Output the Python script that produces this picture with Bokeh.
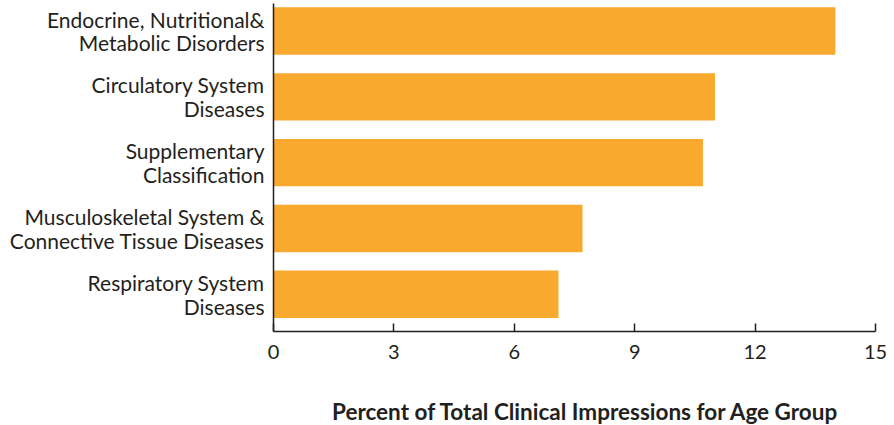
from bokeh.plotting import figure
from bokeh.layouts import column
from bokeh.models import ColumnDataSource, FixedTicker, Label
from bokeh.embed import file_html
from bokeh.resources import INLINE

# Top-to-bottom order of the diagnostic categories
categories = [
    "Endocrine, Nutritional&\nMetabolic Disorders",
    "Circulatory System\nDiseases",
    "Supplementary\nClassification",
    "Musculoskeletal System &\nConnective Tissue Diseases",
    "Respiratory System\nDiseases",
]
percent = [14.0, 11.0, 10.7, 7.7, 7.1]
x_ticks = [0, 3, 6, 9, 12, 15]
x_title = "Percent of  Total Clinical Impressions for Age Group"

BAR = "#F9A92D"
INK = "#231F20"
FONT = "Lato"

n = len(categories)
ypos = [n - 1 - i for i in range(n)]
source = ColumnDataSource(dict(y=ypos, pct=percent))

p = figure(
    width=894, height=370,
    x_range=(0, 15), y_range=(-0.566, n - 1 + 0.418),
    output_backend="svg", toolbar_location=None,
    min_border_left=273, min_border_right=19,
    min_border_top=3, min_border_bottom=39,
)
p.outline_line_color = None
p.grid.visible = False

p.hbar(y="y", right="pct", left=0, height=0.72, source=source,
       fill_color=BAR, line_color=None)

# category axis
ya = p.yaxis[0]
ya.ticker = FixedTicker(ticks=ypos)
ya.major_label_overrides = {yv: lab for yv, lab in zip(ypos, categories)}
ya.major_tick_line_color = None
ya.minor_tick_line_color = None
ya.axis_line_color = INK
ya.axis_line_width = 1.5
ya.major_label_standoff = 3
ya.major_label_text_font = FONT
ya.major_label_text_font_size = "21px"
ya.major_label_text_color = INK
ya.major_label_text_line_height = 0.95

# value axis
xa = p.xaxis[0]
xa.ticker = FixedTicker(ticks=x_ticks)
xa.major_tick_in = 8
xa.major_tick_out = 0
xa.minor_tick_line_color = None
xa.axis_line_color = INK
xa.axis_line_width = 1.5
xa.major_tick_line_color = INK
xa.major_tick_line_width = 1.5
xa.major_label_standoff = 13
xa.major_label_text_font = FONT
xa.major_label_text_font_size = "20px"
xa.major_label_text_color = INK

# strip underneath the chart that carries the value-axis title
# (its frame lines up with the chart's frame inside the column)
t = figure(
    width=894, height=55, x_range=(0, 1), y_range=(0, 1),
    output_backend="svg", toolbar_location=None,
    min_border=0,
)
t.axis.visible = False
t.grid.visible = False
t.outline_line_color = None
t.add_layout(Label(x=315, y=14, x_units="screen", y_units="screen",
                   text=x_title, text_align="center", text_baseline="middle",
                   text_font=FONT, text_font_style="bold",
                   text_font_size="22.5px", text_color=INK))

open("out.html", "w").write(file_html(column(p, t, spacing=0), INLINE))
